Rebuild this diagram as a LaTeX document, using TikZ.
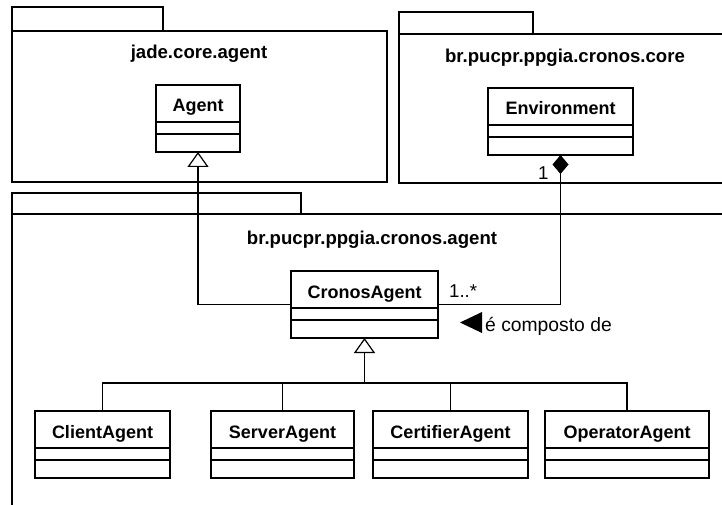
\documentclass[tikz,border=0pt]{standalone}
\usepackage{fontspec}
\setmainfont{Liberation Sans}
\usetikzlibrary{arrows.meta,calc}

\tikzset{
  pkgframe/.style={draw, rectangle, line width=2.6pt, inner sep=0pt, outer sep=0pt, anchor=north west},
  pkgtitle/.style={font=\fontsize{18.6}{20}\selectfont\bfseries, inner sep=0pt, anchor=base},
  clsbox/.style={draw, rectangle, line width=2.6pt, fill=white, inner sep=0pt, outer sep=0pt, minimum height=67pt},
  clsname/.style={font=\fontsize{18}{20}\selectfont\bfseries, inner sep=0pt},
  compart/.style={line width=1.4pt},
  conn/.style={line width=1.2pt},
  genarrow/.style={conn, -{Triangle[open, length=15pt, width=21pt, line width=1.2pt]}},
  comparrow/.style={conn, -{Diamond[length=19pt, width=16pt]}},
  lbl/.style={font=\fontsize{18.6}{20}\selectfont, inner sep=0pt},
  assoclbl/.style={font=\fontsize{19.3}{21}\selectfont, inner sep=0pt},
}

% one UML class: name, centre x, top y, width, title
\newcommand\umlclass[5]{%
  \node[clsbox, minimum width=#4pt, anchor=north] (#1) at (#2,#3) {};
  \node[clsname, anchor=base] (#1-name) at ($(#1.north)+(0,27)$) {#5};
  \draw[compart] ($(#1.north west)+(0,37)$) -- ($(#1.north east)+(0,37)$);
  \draw[compart] ($(#1.north west)+(0,49)$) -- ($(#1.north east)+(0,49)$);
}

\begin{document}
\begin{tikzpicture}[x=1pt, y=-1pt]
  \useasboundingbox (0,0) rectangle (722,505);
  \fill[white] (0,0) rectangle (722,505);
  \clip (0,0) rectangle (722,505);

  % package jade.core.agent
  \node[pkgframe, minimum width=151pt, minimum height=24pt] (p1tab) at (12,7) {};
  \node[pkgframe, minimum width=375pt, minimum height=151pt] (p1) at (12,31) {};
  \node[pkgtitle] (p1title) at (199,59) {jade.core.agent};

  % package br.pucpr.ppgia.cronos.core
  \node[pkgframe, minimum width=134pt, minimum height=22pt] (p2tab) at (399,12) {};
  \node[pkgframe, minimum width=345pt, minimum height=149pt] (p2) at (399,34) {};
  \node[pkgtitle] (p2title) at (565,63) {br.pucpr.ppgia.cronos.core};

  % package br.pucpr.ppgia.cronos.agent
  \node[pkgframe, minimum width=289pt, minimum height=21pt] (p3tab) at (12,193) {};
  \node[pkgframe, minimum width=740pt, minimum height=320pt] (p3) at (12,214) {};
  \node[pkgtitle] (p3title) at (372,244) {br.pucpr.ppgia.cronos.agent};

  % classes
  \umlclass{agent}{198}{85}{84}{Agent}
  \umlclass{env}{560.5}{88}{145}{Environment}
  \umlclass{cronos}{364.5}{271}{147}{CronosAgent}
  \umlclass{client}{102.5}{411}{135}{ClientAgent}
  \umlclass{server}{282.5}{411}{143}{ServerAgent}
  \umlclass{certifier}{450.5}{411}{155}{CertifierAgent}
  \umlclass{operator}{627}{411}{164}{OperatorAgent}

  % CronosAgent extends Agent
  \draw[genarrow] (cronos.west) -| (agent.south);

  % Environment is composed of CronosAgents
  \draw[comparrow] (cronos.east) -| (env.south);
  \node[lbl, anchor=base west] (many) at (449,297) {1..*};
  \node[lbl, anchor=base west] (one) at (538,179) {1};
  \node[assoclbl, anchor=base west] (assoc) at (485,331) {é composto de};
  \fill ($(assoc.base west)+(-3,-19)$) -- ++(0,21) -- ++(-22,-10.5) -- cycle;

  % subclasses of CronosAgent
  \coordinate (fork) at (364.5,383);
  \draw[genarrow] (fork) -- (cronos.south);
  \draw[conn] (client.north) |- (fork);
  \draw[conn] (server.north) |- (fork);
  \draw[conn] (certifier.north) |- (fork);
  \draw[conn] (operator.north) |- (fork);
\end{tikzpicture}
\end{document}
